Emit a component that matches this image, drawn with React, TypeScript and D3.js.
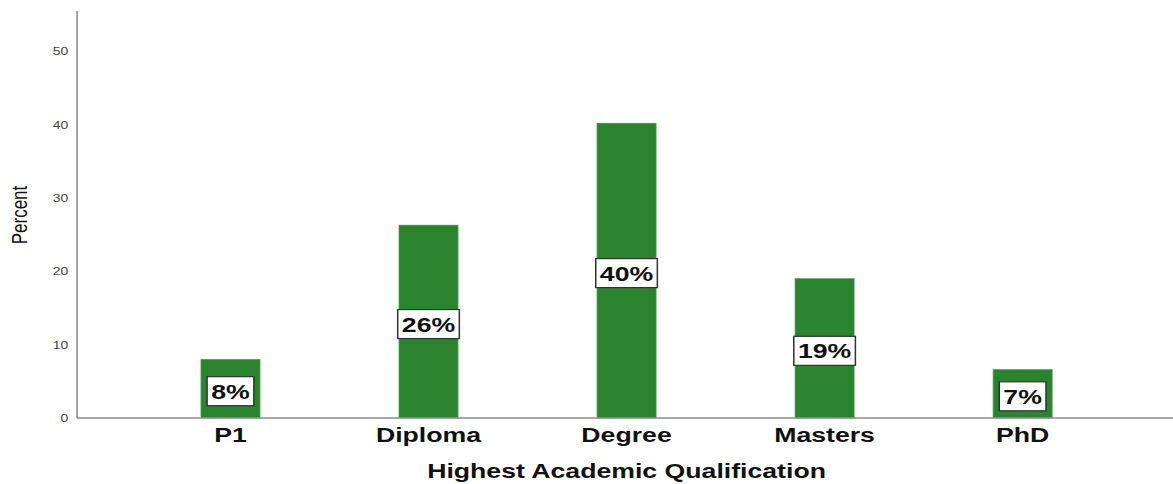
import React, { useEffect, useRef } from 'react';
import * as d3 from 'd3';

// qualification categories and their percentages
const categories = ['P1', 'Diploma', 'Degree', 'Masters', 'PhD'];
const percents = [8.0, 26.3, 40.2, 19.0, 6.6];
const barLabels = ['8%', '26%', '40%', '19%', '7%'];
const yTicks = [0, 10, 20, 30, 40, 50];

const App: React.FC = () => {
  const svgRef = useRef<SVGSVGElement>(null);

  useEffect(() => {
    if (!svgRef.current) return;
    const svg = d3.select(svgRef.current);
    svg.selectAll('*').remove();

    // the original picture is stretched horizontally, so draw in a narrower
    // view box and let the svg stretch it
    const width = 924;
    const height = 484;
    const margin = { top: 11, right: 0, bottom: 66, left: 60.7 };
    const font = 'Arial, "Liberation Sans", sans-serif';

    const x = d3
      .scaleBand()
      .domain(categories)
      .range([margin.left + 1.2, width - margin.right + 1.2])
      .paddingInner(0.702)
      .paddingOuter(0.618);

    const y = d3
      .scaleLinear()
      .domain([0, 55.5])
      .range([height - margin.bottom, margin.top]);

    const data = categories.map((c, i) => ({ cat: c, value: percents[i], label: barLabels[i] }));

    // bars
    svg
      .append('g')
      .selectAll('rect')
      .data(data)
      .enter()
      .append('rect')
      .attr('x', d => x(d.cat) ?? 0)
      .attr('y', d => y(d.value))
      .attr('width', x.bandwidth())
      .attr('height', d => y(0) - y(d.value))
      .attr('fill', '#2a832d')
      .attr('stroke', '#4a9a4c')
      .attr('stroke-width', 0.6);

    // axes lines
    svg
      .append('line')
      .attr('x1', margin.left)
      .attr('x2', margin.left)
      .attr('y1', margin.top)
      .attr('y2', y(0))
      .attr('stroke', '#8c8c8c')
      .attr('stroke-width', 1.3);
    svg
      .append('line')
      .attr('x1', margin.left)
      .attr('x2', width)
      .attr('y1', y(0))
      .attr('y2', y(0))
      .attr('stroke', '#8c8c8c')
      .attr('stroke-width', 1.6);

    // y tick labels
    svg
      .append('g')
      .selectAll('text')
      .data(yTicks)
      .enter()
      .append('text')
      .attr('x', margin.left - 7)
      .attr('y', d => y(d))
      .attr('dy', '0.35em')
      .attr('text-anchor', 'end')
      .attr('font-family', font)
      .attr('font-size', 11)
      .attr('fill', '#444')
      .text(d => d);

    // y axis title
    svg
      .append('text')
      .attr('transform', `translate(21,215) rotate(-90)`)
      .attr('text-anchor', 'middle')
      .attr('font-family', font)
      .attr('font-size', 17)
      .attr('fill', '#111')
      .text('Percent');

    // x tick labels
    svg
      .append('g')
      .selectAll('text')
      .data(categories)
      .enter()
      .append('text')
      .attr('x', d => (x(d) ?? 0) + x.bandwidth() / 2)
      .attr('y', 442)
      .attr('text-anchor', 'middle')
      .attr('font-family', font)
      .attr('font-weight', 'bold')
      .attr('font-size', 21)
      .attr('fill', '#111')
      .text(d => d);

    // x axis title
    svg
      .append('text')
      .attr('x', (x('Degree') ?? 0) + x.bandwidth() / 2)
      .attr('y', 478)
      .attr('text-anchor', 'middle')
      .attr('font-family', font)
      .attr('font-weight', 'bold')
      .attr('font-size', 21)
      .attr('fill', '#111')
      .text('Highest Academic Qualification');

    // value labels in boxes at half bar height
    const lg = svg.append('g');
    data.forEach(d => {
      const cx = (x(d.cat) ?? 0) + x.bandwidth() / 2;
      const cy = y(d.value / 2) + 2.5;
      const g = lg.append('g');
      const rect = g.append('rect');
      const t = g
        .append('text')
        .attr('x', cx)
        .attr('y', cy)
        .attr('dy', '0.36em')
        .attr('text-anchor', 'middle')
        .attr('font-family', font)
        .attr('font-weight', 'bold')
        .attr('font-size', 21)
        .attr('fill', '#111')
        .text(d.label);
      const bw = (t.node() as SVGTextElement).getComputedTextLength() + 6.5;
      rect
        .attr('x', cx - bw / 2)
        .attr('y', cy - 14.5)
        .attr('width', bw)
        .attr('height', 29)
        .attr('fill', '#fff')
        .attr('stroke', '#333')
        .attr('stroke-width', 1.2);
    });
  }, []);

  return (
    <svg
      ref={svgRef}
      width={1173}
      height={484}
      viewBox="0 0 924 484"
      preserveAspectRatio="none"
      style={{ position: 'absolute', left: 0, top: 0, background: '#fff' }}
    />
  );
};

export default App;
